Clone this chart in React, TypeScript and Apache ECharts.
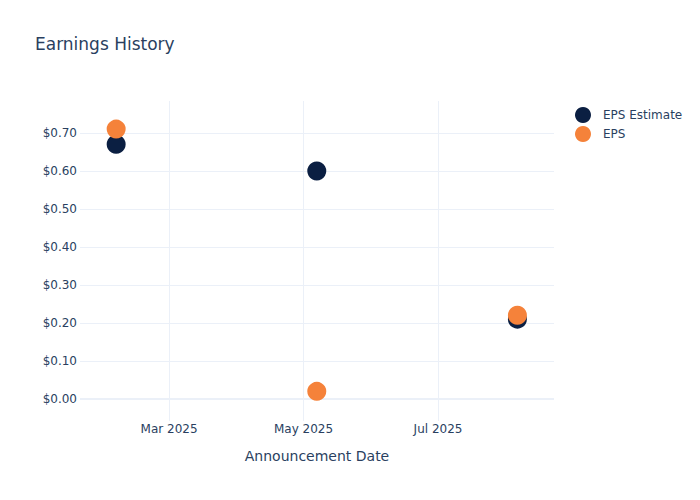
import React, { useEffect, useRef } from "react";
import * as echarts from "echarts";

const dates = ["2025-02-05", "2025-05-07", "2025-08-06"];
const epsEstimate = [0.67, 0.6, 0.21];
const eps = [0.71, 0.02, 0.22];
const xTickDates = ["2025-03-01", "2025-05-01", "2025-07-01"];

const BASE = Date.UTC(2025, 2, 1);
const DAY = 86400000;
const toDays = (d: string) => (Date.parse(d + "T00:00:00Z") - BASE) / DAY;
const MONTHS = ["Jan", "Feb", "Mar", "Apr", "May", "Jun", "Jul", "Aug", "Sep", "Oct", "Nov", "Dec"];
const tickDays = xTickDates.map(toDays);
const fmtDay = (v: number) => {
  const d = new Date(BASE + v * DAY);
  return MONTHS[d.getUTCMonth()] + " " + d.getUTCFullYear();
};

const TEXT = "#2a3f5f";
const GRID = "#EBF0F8";
const FONT = "DejaVu Sans";

export default function App() {
  const ref = useRef<HTMLDivElement>(null);
  useEffect(() => {
    if (!ref.current) return;
    const chart = echarts.init(ref.current, null, { renderer: "svg" });
    const estData = dates.map((d, i) => [toDays(d), epsEstimate[i]]);
    const epsData = dates.map((d, i) => [toDays(d), eps[i]]);
    chart.setOption({
      animation: false,
      backgroundColor: "#fff",
      textStyle: { fontFamily: FONT },
      title: {
        text: "Earnings History",
        left: 35,
        top: 35,
        padding: 0,
        textStyle: { fontFamily: FONT, fontSize: 17, fontWeight: "normal", color: TEXT },
      },
      legend: {
        orient: "vertical",
        left: 575,
        top: 107,
        padding: 0,
        itemWidth: 16,
        itemHeight: 16,
        itemGap: 3,
        icon: "circle",
        textStyle: { fontFamily: FONT, fontSize: 12, color: TEXT, padding: [0, 0, 0, 7] },
        data: ["EPS Estimate", "EPS"],
      },
      grid: { left: 80, right: 146, top: 101, bottom: 79, containLabel: false },
      xAxis: {
        type: "value",
        min: -40.4,
        max: 174.6,
        minInterval: 61,
        maxInterval: 61,
        name: "Announcement Date",
        nameLocation: "middle",
        nameGap: 28,
        nameTextStyle: { fontFamily: FONT, fontSize: 14, color: TEXT },
        axisLine: { show: false },
        axisTick: { show: false },
        axisLabel: {
          margin: 2,
          fontFamily: FONT,
          fontSize: 12,
          color: TEXT,
          showMinLabel: false,
          showMaxLabel: false,
          formatter: (v: number) =>
            tickDays.some((t) => Math.abs(t - v) < 0.01) ? fmtDay(v) : "",
        },
        splitLine: {
          show: true,
          showMinLine: false,
          showMaxLine: false,
          lineStyle: { color: GRID, width: 1 },
        },
      },
      yAxis: {
        type: "value",
        min: -0.058,
        max: 0.784,
        minInterval: 0.1,
        maxInterval: 0.1,
        axisLine: { show: false },
        axisTick: { show: false },
        axisLabel: {
          margin: 3,
          fontFamily: FONT,
          fontSize: 12,
          color: TEXT,
          showMinLabel: false,
          showMaxLabel: false,
          formatter: (v: number) =>
            Math.abs(v * 10 - Math.round(v * 10)) < 1e-6 ? "$" + v.toFixed(2) : "",
        },
        splitLine: {
          show: true,
          showMinLine: false,
          showMaxLine: false,
          lineStyle: { color: GRID, width: 1 },
        },
      },
      series: [
        {
          name: "EPS Estimate",
          type: "scatter",
          data: estData,
          symbol: "circle",
          symbolSize: 19,
          itemStyle: { color: "#0b1f42", opacity: 1 },
          z: 3,
          markLine: {
            silent: true,
            symbol: "none",
            label: { show: false },
            lineStyle: { color: GRID, width: 2, type: "solid" },
            data: [{ yAxis: 0 }],
            z: 1,
          },
        },
        {
          name: "EPS",
          type: "scatter",
          data: epsData,
          symbol: "circle",
          symbolSize: 19,
          itemStyle: { color: "#f5823a", opacity: 1 },
          z: 4,
        },
      ],
    });
    return () => chart.dispose();
  }, []);
  return (
    <div
      ref={ref}
      style={{ position: "fixed", left: 0, top: 0, width: 700, height: 500 }}
    />
  );
}
